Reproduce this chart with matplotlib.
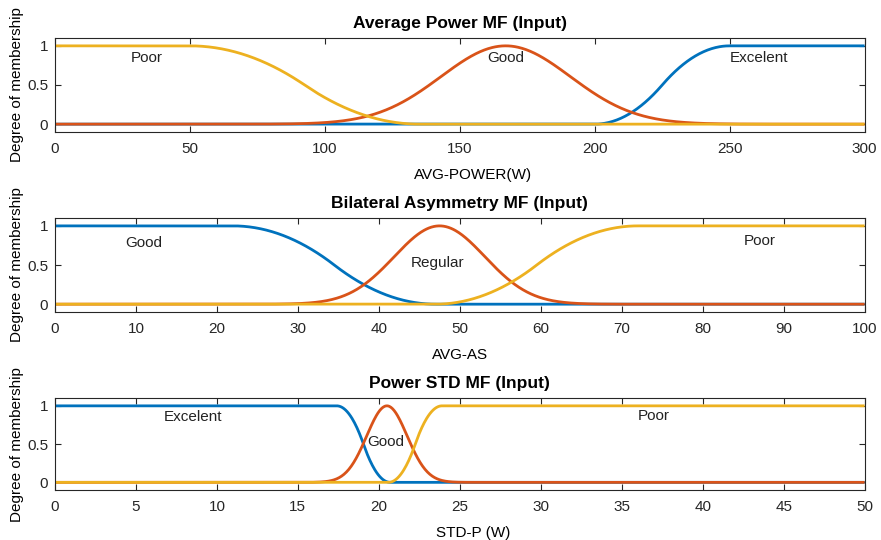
import numpy as np
import matplotlib
matplotlib.use("Agg")
import matplotlib.pyplot as plt

plt.rcParams['font.family'] = ['Liberation Sans', 'DejaVu Sans']

BLUE, ORANGE, YELLOW = '#0072BD', '#D95319', '#EDB120'

# Membership function definitions per input variable: (name, type, params)
power_range = [0, 300]
power_mfs = [
    ("Excelent", "smf", [200, 250]),
    ("Good", "gaussmf", [24, 167]),
    ("Poor", "zmf", [50, 135]),
]
power_ticks = [0, 50, 100, 150, 200, 250, 300]
power_labels = [("Poor", 34, 0.85), ("Good", 167, 0.85), ("Excelent", 261, 0.85)]

asym_range = [0, 100]
asym_mfs = [
    ("Good", "zmf", [22, 47]),
    ("Regular", "gaussmf", [5.6, 47.5]),
    ("Poor", "smf", [47, 72]),
]
asym_ticks = [0, 10, 20, 30, 40, 50, 60, 70, 80, 90, 100]
asym_labels = [("Good", 11, 0.78), ("Regular", 47.3, 0.52), ("Poor", 87, 0.81)]

std_range = [0, 50]
std_mfs = [
    ("Excelent", "zmf", [17.4, 20.7]),
    ("Good", "gaussmf", [1.25, 20.5]),
    ("Poor", "smf", [20.6, 23.9]),
]
std_ticks = [0, 5, 10, 15, 20, 25, 30, 35, 40, 45, 50]
std_labels = [("Excelent", 8.5, 0.86), ("Good", 20.4, 0.53), ("Poor", 37.0, 0.87)]

titles = ["Average Power MF (Input)", "Bilateral Asymmetry MF (Input)", "Power STD MF (Input)"]
xlabels = ["AVG-POWER(W)", "AVG-AS", "STD-P (W)"]
xlabel_x = [0.516, 0.5, 0.516]


def smf(x, a, b):
    m = (a + b) / 2
    y = np.zeros_like(x)
    y[x >= b] = 1
    i = (x > a) & (x <= m)
    y[i] = 2 * ((x[i] - a) / (b - a)) ** 2
    j = (x > m) & (x < b)
    y[j] = 1 - 2 * ((x[j] - b) / (b - a)) ** 2
    return y


def zmf(x, a, b):
    return 1 - smf(x, a, b)


def gaussmf(x, s, c):
    return np.exp(-(x - c) ** 2 / (2 * s ** 2))


funcs = {"smf": smf, "zmf": zmf, "gaussmf": gaussmf}

fig = plt.figure(figsize=(8.81, 5.40), dpi=100)
bottoms = [0.7556, 0.4222, 0.0926]
heights = [0.174, 0.174, 0.170]

sets = [
    (power_range, power_mfs, power_ticks, power_labels),
    (asym_range, asym_mfs, asym_ticks, asym_labels),
    (std_range, std_mfs, std_ticks, std_labels),
]

for k, (rng, mfs, ticks, labels) in enumerate(sets):
    ax = fig.add_axes([0.0624, bottoms[k], 0.919, heights[k]])
    x = np.linspace(rng[0], rng[1], 1001)
    for (name, kind, params), col in zip(mfs, [BLUE, ORANGE, YELLOW]):
        ax.plot(x, funcs[kind](x, *params), color=col, lw=2.0, solid_capstyle='butt')
    for text, tx, ty in labels:
        ax.text(tx, ty, text, ha='center', va='center', fontsize=11, color='#222222')
    ax.set_xlim(rng)
    ax.set_ylim(-0.1, 1.1)
    ax.set_xticks(ticks)
    ax.set_xticklabels([str(t) for t in ticks])
    ax.set_yticks([0, 0.5, 1])
    ax.set_yticklabels(['0', '0.5', '1'])
    ax.tick_params(direction='in', length=4, width=0.8, top=True, right=True,
                   labelsize=11, colors='#262626')
    ax.tick_params(axis='x', pad=7)
    ax.tick_params(axis='y', pad=5)
    for sp in ax.spines.values():
        sp.set_color('#262626')
        sp.set_linewidth(0.8)
    ax.set_title(titles[k], fontsize=12.5, fontweight='bold', pad=7)
    ax.set_xlabel(xlabels[k], fontsize=11, labelpad=8.5, x=xlabel_x[k])
    ax.set_ylabel("Degree of membership", fontsize=11, labelpad=2)

fig.savefig("out.png", dpi=100)
